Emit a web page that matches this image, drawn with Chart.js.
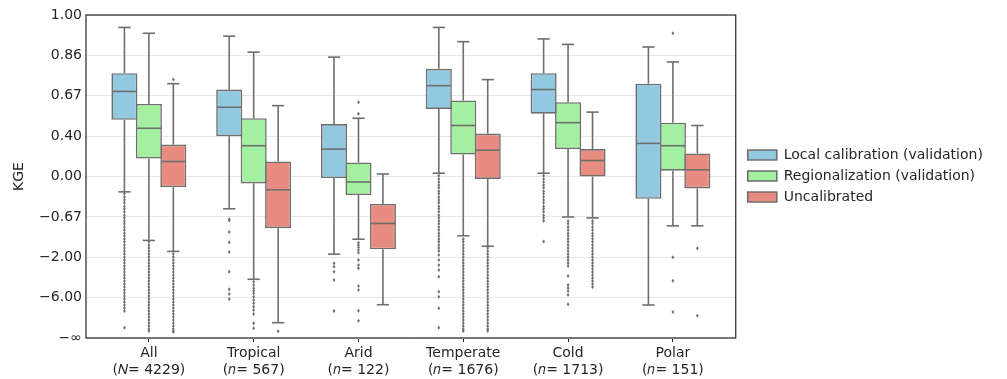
<!DOCTYPE html>
<html>
<head>
<meta charset="utf-8">
<script src="https://cdn.jsdelivr.net/npm/chart.js@4.4.1/dist/chart.umd.min.js"></script>
<style>
  html, body { margin: 0; padding: 0; background: #fff; }
  #wrap { width: 1007px; height: 379px; }
</style>
</head>
<body>
<div id="wrap"><canvas id="chart"></canvas></div>
<script>
// ===== data =====
const categories = ["All", "Tropical", "Arid", "Temperate", "Cold", "Polar"];
const countLabels = ["(𝑁= 4229)", "(𝑛= 567)", "(𝑛= 122)", "(𝑛= 1676)", "(𝑛= 1713)", "(𝑛= 151)"];
const seriesNames = ["Local calibration (validation)", "Regionalization (validation)", "Uncalibrated"];

const yTickValues = [-Infinity, -6, -2, -0.667, 0, 0.4, 0.667, 0.857, 1];
const yTickLabels = ["−∞", "−6.00", "−2.00", "−0.67", "0.00", "0.40", "0.67", "0.86", "1.00"];

// [lower whisker, Q1, median, Q3, upper whisker] per category
const localStats = [
  [-0.21, 0.52, 0.69, 0.78, 0.96],
  [-0.50, 0.40, 0.60, 0.70, 0.93],
  [-1.85, -0.02, 0.29, 0.49, 0.85],
  [0.04, 0.59, 0.72, 0.80, 0.96],
  [0.04, 0.56, 0.70, 0.78, 0.92],
  [-7.79, -0.32, 0.34, 0.73, 0.89]
];
const regionalStats = [
  [-1.31, 0.20, 0.46, 0.62, 0.94],
  [-3.50, -0.09, 0.32, 0.53, 0.87],
  [-1.27, -0.26, -0.07, 0.16, 0.53],
  [-1.16, 0.24, 0.48, 0.64, 0.91],
  [-0.67, 0.29, 0.50, 0.63, 0.90],
  [-0.88, 0.07, 0.32, 0.50, 0.83]
];
const uncalStats = [
  [-1.73, -0.14, 0.17, 0.33, 0.73],
  [-19.1, -0.94, -0.18, 0.17, 0.61],
  [-7.70, -1.64, -0.82, -0.41, 0.03],
  [-1.52, -0.03, 0.28, 0.42, 0.75],
  [-0.69, 0.00, 0.18, 0.29, 0.57],
  [-0.88, -0.16, 0.08, 0.25, 0.48]
];

// outliers per category
const localOutliers = [
  [-0.24, -0.29, -0.34, -0.39, -0.45, -0.50, -0.56, -0.63, -0.69, -0.76, -0.83, -0.91, -0.99, -1.08, -1.17, -1.26, -1.36, -1.47, -1.59, -1.71,
   -1.85, -1.99, -2.14, -2.31, -2.49, -2.68, -2.89, -3.13, -3.38, -3.67, -3.98, -4.33, -4.73, -5.18, -5.69, -6.28, -6.97, -7.79, -8.77, -9.96, -29.4],
  [-0.72, -0.75, -1.05, -1.38, -1.76, -2.87, -4.63, -5.34, -6.28],
  [-2.32, -2.53, -2.87, -3.57, -9.96],
  [0.01, -0.03, -0.07, -0.11, -0.15, -0.20, -0.24, -0.29, -0.34, -0.39, -0.45, -0.50, -0.56, -0.63, -0.69, -0.76, -0.83, -0.91, -0.99, -1.08,
   -1.17, -1.26, -1.36, -1.47, -1.59, -1.71, -1.89, -2.14, -2.42, -2.75, -3.27, -4.98, -5.82, -8.88, -29.4],
  [0.01, -0.03, -0.07, -0.11, -0.15, -0.20, -0.24, -0.29, -0.34, -0.39, -0.45, -0.50, -0.56, -0.63, -0.69, -0.76, -1.35],
  []
];
const regionalOutliers = [
  [-1.36, -1.47, -1.59, -1.71, -1.85, -1.99, -2.14, -2.31, -2.49, -2.68, -2.89, -3.13, -3.38, -3.67, -3.98, -4.33, -4.73, -5.18, -5.69, -6.28,
   -6.97, -7.79, -8.77, -9.96, -11.5, -13.4, -15.9, -19.5, -24.9, -33.9, -44.1],
  [-3.74, -4.09, -4.50, -4.83, -5.23, -5.82, -6.50, -7.31, -8.32, -9.54, -11.5, -20.0, -31.3],
  [0.63, 0.56, -1.39, -1.47, -1.56, -1.67, -1.79, -2.14, -2.42, -2.63, -4.21, -4.73, -9.83, -16.7],
  [-1.26, -1.36, -1.47, -1.59, -1.71, -1.85, -1.99, -2.14, -2.31, -2.49, -2.68, -2.89, -3.13, -3.38, -3.67, -3.98, -4.33, -4.73, -5.18, -5.69,
   -6.28, -6.97, -7.79, -8.77, -9.96, -11.5, -13.4, -15.9, -19.5, -24.9, -33.9, -44.1],
  [-0.76, -0.83, -0.91, -0.99, -1.08, -1.17, -1.26, -1.36, -1.47, -1.59, -1.71, -1.85, -1.99, -2.14, -2.31, -2.49, -3.21, -4.09, -4.46, -4.87,
   -5.51, -7.58],
  [0.94, -2.00, -3.64, -10.4]
];
const uncalOutliers = [
  [0.75, -1.85, -1.99, -2.14, -2.31, -2.49, -2.68, -2.89, -3.13, -3.38, -3.67, -3.98, -4.33, -4.73, -5.18, -5.69, -6.28, -6.97, -7.79, -8.77,
   -9.96, -11.5, -13.4, -15.9, -19.5, -24.9, -33.9, -44.1, -51.8],
  [-46.2],
  [],
  [-1.59, -1.71, -1.85, -1.99, -2.14, -2.31, -2.49, -2.68, -2.89, -3.13, -3.38, -3.67, -3.98, -4.33, -4.73, -5.18, -5.69, -6.28, -6.97, -7.79,
   -8.77, -9.96, -11.5, -13.4, -15.9, -19.5, -24.9, -33.9, -44.1],
  [-0.76, -0.83, -0.91, -0.99, -1.08, -1.17, -1.26, -1.36, -1.47, -1.59, -1.71, -1.85, -1.99, -2.14, -2.31, -2.49, -2.68, -2.89, -3.13, -3.38,
   -3.67, -3.98, -4.33],
  [-1.60, -12.5]
];

// ===== style =====
const FILLS = ["#92c9e0", "#a3f0a0", "#e88c81"];
const LINE = "#6e6e6e";
const TEXT = "#262626";
const FRAME = "#262626";

// KGE axis: equal spacing for 1/(2-KGE)
function tf(k){ return k === -Infinity ? 0 : 1 / (2 - k); }

Chart.defaults.font.family = "'DejaVu Sans', sans-serif";
Chart.defaults.font.size = 14;
Chart.defaults.color = TEXT;

const allStats = [localStats, regionalStats, uncalStats];
const allOutliers = [localOutliers, regionalOutliers, uncalOutliers];

const datasets = seriesNames.map((name, k) => ({
  label: name,
  data: allStats[k].map((s, i) => ({ x: i, y: [tf(s[1]), tf(s[3])] })),
  stats: allStats[k],
  outliers: allOutliers[k],
  backgroundColor: FILLS[k],
  borderColor: LINE,
  borderWidth: 1.6,
  borderSkipped: false,
  categoryPercentage: 0.7,
  barPercentage: 1.066
}));

// whiskers, medians, fliers, frame
const boxExtras = {
  id: "boxExtras",
  afterLayout(chart){
    // nudge legend to sit like the original (box a bit right, block a bit higher)
    const lg = chart.legend;
    lg.left += 5; lg.right += 5;
    lg.top -= 21; lg.bottom -= 21;
  },
  afterDatasetsDraw(chart){
    const ctx = chart.ctx;
    const yScale = chart.scales.y;
    const py = v => yScale.getPixelForValue(tf(v));
    const line = (x1, y1, x2, y2) => { ctx.beginPath(); ctx.moveTo(x1, y1); ctx.lineTo(x2, y2); ctx.stroke(); };
    ctx.save();
    ctx.strokeStyle = LINE;
    ctx.fillStyle = LINE;
    ctx.lineWidth = 1.6;
    chart.data.datasets.forEach((ds, di) => {
      const meta = chart.getDatasetMeta(di);
      meta.data.forEach((bar, i) => {
        const s = ds.stats[i];
        const x = bar.x;
        const half = bar.width / 2 - 0.8;
        line(x, py(s[1]), x, py(s[0]));
        line(x, py(s[3]), x, py(s[4]));
        line(x - half / 2, py(s[0]), x + half / 2, py(s[0]));
        line(x - half / 2, py(s[4]), x + half / 2, py(s[4]));
        line(x - half, py(s[2]), x + half, py(s[2]));
        ds.outliers[i].forEach(v => {
          const y = py(v);
          ctx.beginPath();
          ctx.moveTo(x, y - 2); ctx.lineTo(x + 1.4, y); ctx.lineTo(x, y + 2); ctx.lineTo(x - 1.4, y);
          ctx.closePath();
          ctx.fill();
        });
      });
    });
    const a = chart.chartArea;
    ctx.strokeStyle = FRAME;
    ctx.lineWidth = 1.2;
    ctx.strokeRect(a.left, a.top, a.right - a.left, a.bottom - a.top);
    ctx.restore();
  }
};

new Chart(document.getElementById("chart"), {
  type: "bar",
  data: { datasets },
  plugins: [boxExtras],
  options: {
    responsive: true,
    maintainAspectRatio: false,
    animation: false,
    layout: { padding: { top: 15, right: 26, bottom: 0, left: 0 } },
    scales: {
      x: {
        type: "linear", min: -0.6, max: 5.6, offset: false,
        afterBuildTicks: s => { s.ticks = categories.map((_, i) => ({ value: i })); },
        afterFit: s => { s.height = 41; },
        ticks: { autoSkip: false, maxRotation: 0, padding: 3, color: TEXT,
                 callback: v => [categories[v], countLabels[v]] },
        grid: { drawOnChartArea: false, drawTicks: true, tickLength: 4, tickColor: FRAME, offset: false },
        border: { display: false }
      },
      y: {
        type: "linear", min: 0, max: 1,
        afterBuildTicks: s => { s.ticks = yTickValues.map(v => ({ value: tf(v) })); },
        afterFit: s => { s.width = 86; },
        ticks: { padding: 4, color: TEXT, callback: (v, i) => yTickLabels[i] },
        grid: { color: "#e6e6e6", lineWidth: 1, drawTicks: false },
        border: { display: false },
        title: { display: true, text: "KGE", color: TEXT, font: { size: 14 }, padding: { top: 11, bottom: 0 } }
      }
    },
    plugins: {
      legend: {
        position: "right",
        labels: { boxWidth: 29, boxHeight: 10, padding: 7, color: TEXT, font: { size: 14 } }
      },
      tooltip: { enabled: false }
    }
  }
});
</script>
</body>
</html>
